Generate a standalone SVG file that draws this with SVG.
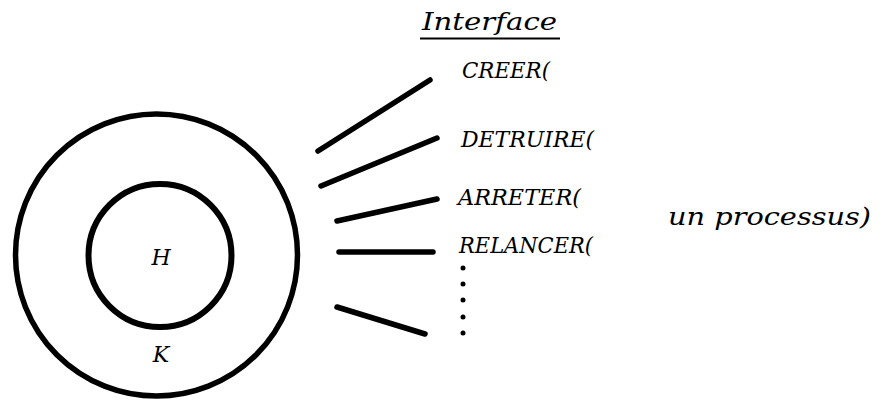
<svg xmlns="http://www.w3.org/2000/svg" width="884" height="401" viewBox="0 0 884 401">
<style>
.ring{fill:none;stroke:#000;stroke-width:5.5}
.t{font-family:"DejaVu Serif","Liberation Serif",serif;font-style:italic;font-size:22px;fill:#000}
.l{font-size:24px}
.c{stroke:#000;stroke-width:5.5;stroke-linecap:round;fill:none}
</style>
<rect width="884" height="401" fill="#fff"/>
<g id="K">
<circle class="ring" cx="156.5" cy="255" r="141"/>
<text class="t" x="161" y="362" text-anchor="middle">K</text>
</g>
<g id="H">
<circle class="ring" cx="160" cy="255.5" r="71.5" style="stroke-width:6"/>
<text class="t" x="161" y="265" text-anchor="middle">H</text>
</g>
<g id="interface">
<text class="t l" x="422" y="30" textLength="135" lengthAdjust="spacingAndGlyphs">Interface</text>
<line x1="420" y1="38.5" x2="560" y2="38.5" stroke="#000" stroke-width="2"/>
<text class="t" x="462" y="78" textLength="88" lengthAdjust="spacingAndGlyphs">CREER(</text>
<text class="t" x="461" y="147" textLength="133" lengthAdjust="spacingAndGlyphs">DETRUIRE(</text>
<text class="t" x="458" y="205" textLength="123" lengthAdjust="spacingAndGlyphs">ARRETER(</text>
<text class="t" x="459" y="253" textLength="134" lengthAdjust="spacingAndGlyphs">RELANCER(</text>
<text class="t l" x="668" y="225" textLength="203" lengthAdjust="spacingAndGlyphs">un processus)</text>
<g fill="#000">
<circle cx="463" cy="268" r="2.5"/>
<circle cx="463" cy="284" r="2.5"/>
<circle cx="463" cy="300" r="2.5"/>
<circle cx="463" cy="317" r="2.5"/>
<circle cx="463" cy="333" r="2.5"/>
</g>
</g>
<g id="connectors">
<line class="c" x1="318" y1="151" x2="430" y2="80"/>
<line class="c" x1="321" y1="186" x2="437" y2="138"/>
<line class="c" x1="337" y1="221" x2="437" y2="199"/>
<line class="c" x1="339" y1="252" x2="433" y2="252"/>
<line class="c" x1="337" y1="307" x2="425" y2="334"/>
</g>
</svg>
